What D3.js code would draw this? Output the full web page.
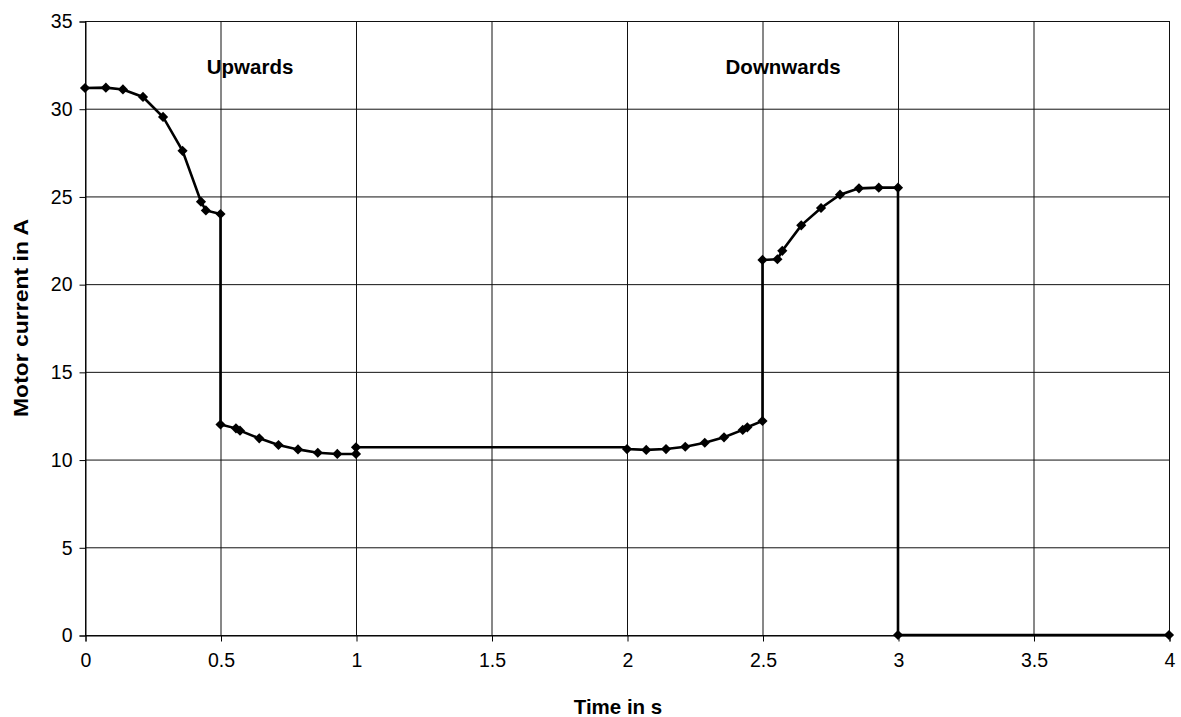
<!DOCTYPE html>
<html><head><meta charset="utf-8">
<script src="https://cdn.jsdelivr.net/npm/d3@7"></script>
<style>
body{margin:0;background:#fff;}
text{font-family:Arial,"Liberation Sans",sans-serif;}
</style></head>
<body><svg id="c" width="1181" height="717"></svg>
<script>
const times = [0,0.077,0.14,0.214,0.288,0.36,0.428,0.446,0.5,0.5,0.557,0.572,0.643,0.714,0.786,0.859,0.931,1.0,1.0,2.0,2.0,2.071,2.144,2.215,2.287,2.358,2.427,2.444,2.5,2.5,2.555,2.573,2.643,2.716,2.786,2.856,2.929,3.0,3.0,4.0];
const current = [31.18,31.2,31.1,30.67,29.53,27.6,24.7,24.2,24.0,12.0,11.78,11.65,11.21,10.83,10.58,10.39,10.32,10.32,10.7,10.7,10.6,10.55,10.6,10.73,10.96,11.27,11.69,11.84,12.2,21.38,21.42,21.9,23.35,24.34,25.1,25.46,25.5,25.5,0,0];
const noMarker = [19];
const xTicks = [0,0.5,1,1.5,2,2.5,3,3.5,4];
const yTicks = [0,5,10,15,20,25,30,35];
const noteLabels = ["Upwards","Downwards"];
const noteT = [0.609, 2.576];
const noteV = [32.0, 32.0];

const svg = d3.select("#c");
const m = {l:85, r:1169, t:21, b:635};
const x = d3.scaleLinear().domain([0,4]).range([m.l,m.r]);
const y = d3.scaleLinear().domain([0,35]).range([m.b,m.t]);
const FONT = "Arial, 'Liberation Sans', sans-serif";

// grid
svg.append("g").selectAll("line").data(yTicks).join("line")
  .attr("x1",m.l).attr("x2",m.r).attr("y1",d=>y(d)+0.5).attr("y2",d=>y(d)+0.5)
  .attr("stroke","#111").attr("stroke-width",1);
svg.append("g").selectAll("line").data(xTicks).join("line")
  .attr("y1",m.t).attr("y2",m.b).attr("x1",d=>x(d)+0.5).attr("x2",d=>x(d)+0.5)
  .attr("stroke","#111").attr("stroke-width",1);

// axes
const ax = d3.axisBottom(x).tickValues(xTicks).tickSize(6).tickPadding(12).tickFormat(d3.format("~g"));
const gx = svg.append("g").attr("transform",`translate(0.5,${m.b+0.5})`).call(ax);
const ay = d3.axisLeft(y).tickValues(yTicks).tickSize(6).tickPadding(7);
const gy = svg.append("g").attr("transform",`translate(${m.l+0.5},0.5)`).call(ay);
[gx,gy].forEach(g=>{
  g.select(".domain").attr("stroke","#000");
  g.selectAll(".tick line").attr("stroke","#000");
  g.selectAll("text").attr("font-size",19.5).attr("fill","#000").attr("font-family",FONT);
});
gx.selectAll("text").attr("dy","0.71em");

const data = times.map((t,i)=>({t, v: current[i], i}));
svg.append("path").datum(data)
  .attr("d", d3.line().x(d=>x(d.t)).y(d=>y(d.v)))
  .attr("fill","none").attr("stroke","#000").attr("stroke-width",2.6).attr("stroke-linejoin","miter");
svg.append("g").selectAll("path").data(data.filter(d=>!noMarker.includes(d.i))).join("path")
  .attr("transform",d=>`translate(${x(d.t)},${y(d.v)})`)
  .attr("d", d3.symbol(d3.symbolDiamond2, 66)())
  .attr("fill","#000");

// annotations
svg.append("g").selectAll("text").data(noteLabels).join("text")
  .attr("x",(d,i)=>x(noteT[i])).attr("y",(d,i)=>y(noteV[i]))
  .attr("text-anchor","middle").attr("font-size",20.5).attr("font-weight","bold")
  .text(d=>d);

svg.append("text").attr("x",618).attr("y",714).attr("text-anchor","middle")
  .attr("font-size",20.5).attr("font-weight","bold").text("Time in s");
svg.append("text").attr("transform",`translate(28,318) rotate(-90)`)
  .attr("text-anchor","middle").attr("font-size",21).attr("font-weight","bold")
  .attr("textLength",198).attr("lengthAdjust","spacingAndGlyphs").text("Motor current in A");
</script></body></html>
